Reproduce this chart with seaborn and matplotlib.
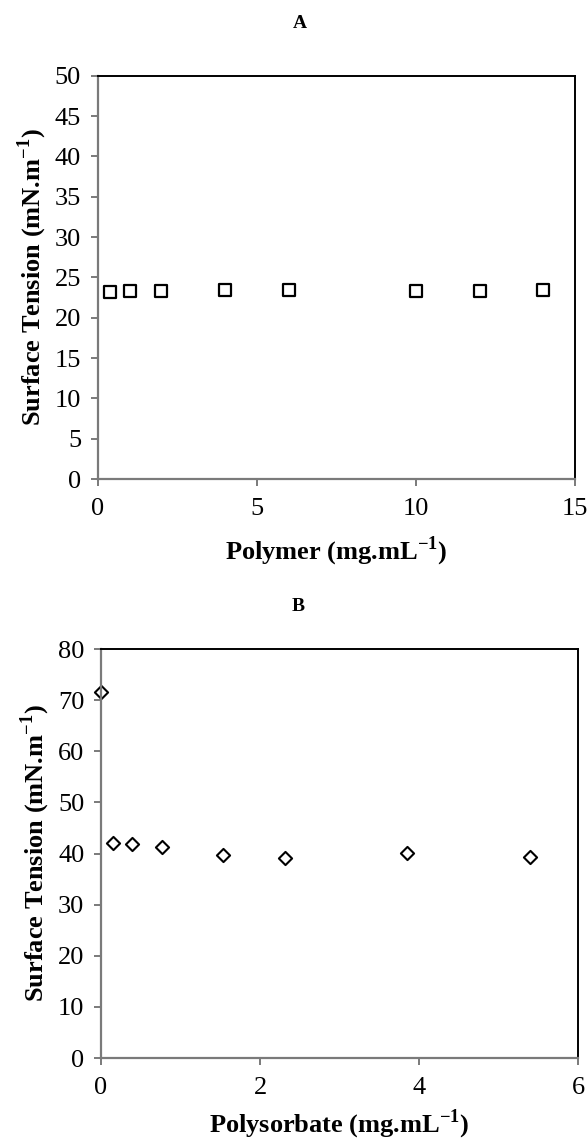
import numpy as np
import pandas as pd
import matplotlib
matplotlib.use("Agg")
import matplotlib.pyplot as plt
import seaborn as sns

# --- data ---
polymer_conc = [0.4, 1, 2, 4, 6, 10, 12, 14]
polymer_st = [23.2, 23.3, 23.3, 23.4, 23.4, 23.3, 23.3, 23.4]

polysorbate_conc = [0.0, 0.154, 0.385, 0.77, 1.54, 2.31, 3.85, 5.39]
polysorbate_st = [71.5, 42.1, 41.8, 41.3, 39.8, 39.1, 40.1, 39.4]

df_a = pd.DataFrame({"conc": polymer_conc, "st": polymer_st})
df_b = pd.DataFrame({"conc": polysorbate_conc, "st": polysorbate_st})

sns.set_theme(style="white")
plt.rcParams["font.family"] = ["Liberation Serif", "DejaVu Serif"]
plt.rcParams["mathtext.fontset"] = "custom"
plt.rcParams["mathtext.rm"] = "Liberation Serif"
plt.rcParams["mathtext.bf"] = "Liberation Serif:bold"
plt.rcParams["text.color"] = "black"
plt.rcParams["axes.labelcolor"] = "black"

GRAY = "#7a7a7a"
fig = plt.figure(figsize=(5.87, 11.4), dpi=100)
ax_a = fig.add_axes([0.1664, 0.5798, 0.8132, 0.3538])
ax_b = fig.add_axes([0.1721, 0.0719, 0.8126, 0.3588])

sns.scatterplot(data=df_a, x="conc", y="st", marker="s", s=75,
                facecolor="white", edgecolor="black", linewidth=1.6, ax=ax_a)
sns.scatterplot(data=df_b, x="conc", y="st", marker="D", s=45,
                facecolor="white", edgecolor="black", linewidth=1.5, ax=ax_b)

ax_a.set_xlim(0, 15)
ax_a.set_ylim(0, 50)
ax_a.set_xticks([0, 5, 10, 15])
ax_a.set_yticks(range(0, 51, 5))

ax_b.set_xlim(0, 6)
ax_b.set_ylim(0, 80)
ax_b.set_xticks([0, 2, 4, 6])
ax_b.set_yticks(range(0, 81, 10))

ylab = r"Surface Tension (mN.m$^{\mathbf{-1}}$)"
for ax, xlab, lpad in [(ax_a, r"Polymer (mg.mL$^{\mathbf{-1}}$)", 10),
                       (ax_b, r"Polysorbate (mg.mL$^{\mathbf{-1}}$)", 6)]:
    for side in ["left", "bottom"]:
        ax.spines[side].set_color(GRAY)
        ax.spines[side].set_linewidth(1.6)
    for side in ["top", "right"]:
        ax.spines[side].set_color("black")
        ax.spines[side].set_linewidth(1.4)
    ax.tick_params(axis="both", direction="out", length=5, width=1.4,
                   color=GRAY, labelsize=19, labelcolor="black", pad=7,
                   left=True, bottom=True)
    ax.tick_params(axis="x", pad=9)
    ax.set_xlabel(xlab, fontsize=19, fontweight="bold", labelpad=lpad)
    ax.set_ylabel(ylab, fontsize=19, fontweight="bold", labelpad=4)
    for c in ax.collections:
        c.set_clip_on(False)

fig.text(0.511, 0.979, "A", ha="center", va="center", fontsize=14, fontweight="bold")
fig.text(0.508, 0.468, "B", ha="center", va="center", fontsize=14, fontweight="bold")

fig.savefig("out.png", dpi=100, facecolor="white")
